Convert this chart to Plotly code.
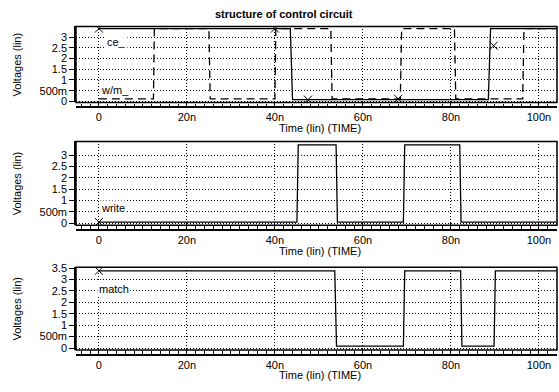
import plotly.graph_objects as go

# ---- data (time in ns, voltages in V) ----
ce_t = [0, 43.5, 44.0, 88.5, 89.0, 104]
ce_v = [3.40, 3.40, 0.08, 0.08, 3.40, 3.40]

wm_t = [0, 12.4, 12.6, 25.0, 25.3, 40.0, 40.2, 52.7, 53.0, 68.5, 68.8, 80.8, 81.1, 96.3, 96.6, 104]
wm_v = [0.12, 0.12, 3.40, 3.40, 0.12, 0.12, 3.40, 3.40, 0.12, 0.12, 3.40, 3.40, 0.12, 0.12, 3.40, 3.40]

write_t = [0, 45.0, 45.3, 53.9, 54.2, 69.2, 69.5, 82.0, 82.3, 104]
write_v = [0.05, 0.05, 3.45, 3.45, 0.05, 0.05, 3.45, 3.45, 0.05, 0.05]

match_t = [0, 53.6, 54.0, 69.2, 69.5, 82.2, 82.5, 89.8, 90.1, 104]
match_v = [3.38, 3.38, 0.08, 0.08, 3.38, 3.38, 0.08, 0.08, 3.38, 3.38]

mark1_t = [0, 40, 47.5, 68, 89.7]
mark1_v = [3.40, 3.40, 0.08, 0.12, 2.6]
mark2_t = [0]
mark2_v = [0.05]
mark3_t = [0]
mark3_v = [3.38]

x_ticks = [0, 20, 40, 60, 80, 100]
x_ticktext = ["0", "20n", "40n", "60n", "80n", "100n"]
y_ticks = [0, 0.5, 1, 1.5, 2, 2.5, 3]
y_ticktext = ["0", "500m", "1", "1.5", "2", "2.5", "3"]
y_ticks3 = [0, 0.5, 1, 1.5, 2, 2.5, 3, 3.5]
y_ticktext3 = ["0", "500m", "1", "1.5", "2", "2.5", "3", "3.5"]

W, H = 559, 392
def py(p):  # pixel row -> paper y
    return 1 - p / H

FONT = "Liberation Sans, Arial, sans-serif"
fig = go.Figure()

line = dict(color="black", width=1.3)
fig.add_trace(go.Scatter(x=ce_t, y=ce_v, mode="lines", line=line, xaxis="x", yaxis="y"))
fig.add_trace(go.Scatter(x=wm_t, y=wm_v, mode="lines", line=dict(color="black", width=1.3, dash="8px,5px"), xaxis="x", yaxis="y"))
fig.add_trace(go.Scatter(x=write_t, y=write_v, mode="lines", line=line, xaxis="x2", yaxis="y2"))
fig.add_trace(go.Scatter(x=match_t, y=match_v, mode="lines", line=line, xaxis="x3", yaxis="y3"))
mk = dict(symbol="x-thin", size=8, line=dict(color="black", width=1))
fig.add_trace(go.Scatter(x=mark1_t, y=mark1_v, mode="markers", marker=mk, xaxis="x", yaxis="y"))
fig.add_trace(go.Scatter(x=mark2_t, y=mark2_v, mode="markers", marker=mk, xaxis="x2", yaxis="y2"))
fig.add_trace(go.Scatter(x=mark3_t, y=mark3_v, mode="markers", marker=mk, xaxis="x3", yaxis="y3"))

xdom = [76 / W, 557 / W]
panels = [
    # (top px, bottom px, tickline px, yrange, ticks, ticktext)
    (22, 100, 105, [-0.05, 3.5], y_ticks, y_ticktext),
    (140, 226, 231, [-0.09, 3.6], y_ticks, y_ticktext),
    (269, 354, 359, [-0.085, 3.54], y_ticks3, y_ticktext3),
]

layout = dict(
    width=W, height=H, margin=dict(l=0, r=0, t=0, b=0),
    paper_bgcolor="white", plot_bgcolor="white", showlegend=False,
    font=dict(family=FONT, size=11, color="black"),
)
shapes = []
annotations = []
for i, (top, bot, tl, yr, yt, ytt) in enumerate(panels):
    sfx = "" if i == 0 else str(i + 1)
    layout["xaxis" + sfx] = dict(
        domain=xdom, range=[-5.2, 104.1], anchor="free", position=py(tl),
        tickvals=x_ticks, ticktext=x_ticktext, ticks="inside", ticklen=6,
        tickcolor="black", showline=True, linecolor="black", linewidth=1.5,
        showgrid=True, gridcolor="black", griddash="1px,2px", gridwidth=1,
        zeroline=False, tickfont=dict(size=11, family=FONT),
        minor=dict(dtick=2, ticks="inside", ticklen=3, tickcolor="black", showgrid=False),
    )
    layout["yaxis" + sfx] = dict(
        domain=[py(bot), py(top)], range=yr, anchor="x" + sfx,
        tickvals=yt, ticktext=ytt, ticks="outside", ticklen=5, tickcolor="black",
        showline=True, linecolor="black", linewidth=1.5,
        showgrid=True, gridcolor="black", griddash="1px,2px", gridwidth=1,
        zeroline=False, tickfont=dict(size=11, family=FONT),
    )
    shapes.append(dict(type="rect", xref="paper", yref="paper",
                       x0=xdom[0], x1=xdom[1], y0=py(bot), y1=py(top),
                       line=dict(color="black", width=1.5)))
    annotations.append(dict(x=320 / W, y=py(tl + 21), xref="paper", yref="paper",
                            text="Time (lin) (TIME)", showarrow=False,
                            font=dict(size=11, family=FONT), xanchor="center", yanchor="middle"))
    annotations.append(dict(x=17 / W, y=py((top + bot) / 2), xref="paper", yref="paper",
                            text="Voltages (lin)", showarrow=False, textangle=-90,
                            font=dict(size=11, family=FONT), xanchor="center", yanchor="middle"))

annotations.append(dict(x=284 / W, y=py(9), xref="paper", yref="paper",
                        text="<b>structure of control circuit</b>", showarrow=False,
                        font=dict(size=11, family=FONT), xanchor="center", yanchor="middle"))
annotations.append(dict(x=1.5, y=2.75, xref="x", yref="y", text="ce_", showarrow=False,
                        xanchor="left", bgcolor="white", font=dict(size=11, family=FONT)))
annotations.append(dict(x=0, y=0.55, xref="x", yref="y", text="w/m_", showarrow=False,
                        xanchor="left", bgcolor="white", font=dict(size=11, family=FONT)))
annotations.append(dict(x=0, y=0.65, xref="x2", yref="y2", text="write", showarrow=False,
                        xanchor="left", bgcolor="white", font=dict(size=11, family=FONT)))
annotations.append(dict(x=-0.5, y=2.6, xref="x3", yref="y3", text="match", showarrow=False,
                        xanchor="left", bgcolor="white", font=dict(size=11, family=FONT)))

layout["shapes"] = shapes
layout["annotations"] = annotations
fig.update_layout(**layout)
fig.write_html("out.html")
